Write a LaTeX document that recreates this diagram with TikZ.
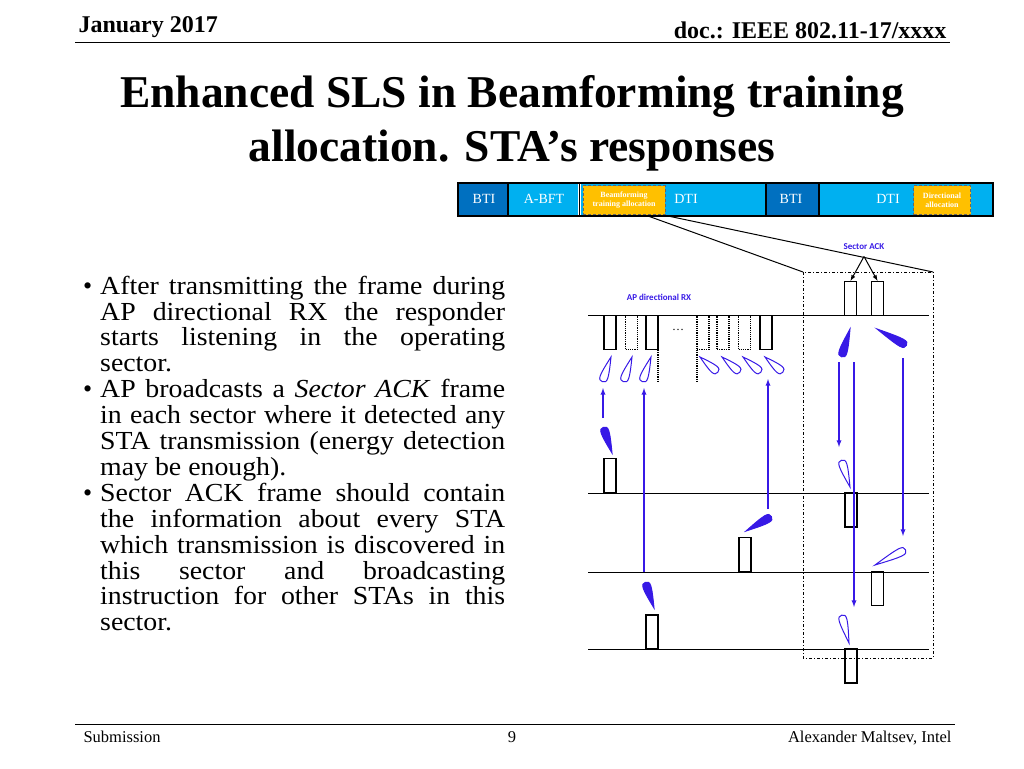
\documentclass[tikz,border=0pt]{standalone}
\usepackage{fontspec}
\setmainfont{Liberation Serif}
\newfontfamily\labelfont{Carlito}
\newfontfamily\bodyfont[FakeStretch=1.07]{Liberation Serif}
\usepackage{enumitem}
\usetikzlibrary{calc,positioning}

\definecolor{btiblue}{HTML}{0070C0}
\definecolor{dtiblue}{HTML}{00B0F0}
\definecolor{alloc}{HTML}{FFC000}
\definecolor{beam}{RGB}{55,25,230}

\tikzset{
  frm/.style    = {draw, line width=1.2pt, minimum width=12pt, minimum height=34pt, inner sep=0pt},
  frmdot/.style = {frm, densely dotted},
  axis/.style   = {line width=1pt},
  ray/.style    = {beam, line width=1.3pt, -latex},
  seg/.style    = {text=white, font=\fontsize{14}{14}\selectfont, inner sep=0pt},
  tag/.style    = {text=white, font=\bfseries\fontsize{8}{9}\selectfont, align=center, inner sep=0pt}
}

% lobe: style, tip, centre of round end
\newcommand\lobe[3]{%
  \draw[beam, line width=1pt, #1] (#2)
    .. controls ($(#3)!5pt!90:(#2)$) and ($($(#3)!-5pt!(#2)$)!5.5pt!90:(#3)$) .. ($(#3)!-5pt!(#2)$)
    .. controls ($($(#3)!-5pt!(#2)$)!5.5pt!-90:(#3)$) and ($(#3)!5pt!-90:(#2)$) .. (#2) -- cycle;}

\begin{document}
\begin{tikzpicture}[x=1pt, y=-1pt]
\useasboundingbox (0,0) rectangle (1024,768);

% header and footer
\node[anchor=base west, font=\bfseries\fontsize{24}{24}\selectfont] (date) at (75,33) {January 2017};
\node[anchor=base east, font=\bfseries\fontsize{24}{24}\selectfont] (doc) at (950,39) {doc.: IEEE 802.11-17/xxxx};
\draw[line width=1pt] (75,43) -- (950,43);
\node[font=\bfseries\fontsize{45.5}{45.5}\selectfont] (t1) at (512,97) {Enhanced SLS in Beamforming training};
\node[font=\bfseries\fontsize{45.5}{45.5}\selectfont] (t2) at (512,151) {allocation. STA’s responses};
\draw[line width=1pt] (75,724) -- (955,724);
\node[anchor=base west, font=\fontsize{16.5}{16.5}\selectfont] (sub) at (80,742) {Submission};
\node[anchor=base, font=\fontsize{16.5}{16.5}\selectfont] (pg) at (512,742) {9};
\node[anchor=base east, font=\fontsize{16.5}{16.5}\selectfont] (auth) at (955,742) {Alexander Maltsev, Intel};

% text
\node[anchor=north west, text width=427pt, inner sep=0pt, align=justify,
      font=\bodyfont\fontsize{26}{25.9}\selectfont] (body) at (78,268) {%
\hyphenpenalty=10000 \exhyphenpenalty=10000
\begin{itemize}[leftmargin=22pt, labelsep=8pt, itemsep=0pt, topsep=0pt, parsep=0pt]
\item After transmitting the frame during AP directional RX the responder starts listening in the operating sector.
\item AP broadcasts a \textit{Sector ACK} frame in each sector where it detected any STA transmission (energy detection may be enough).
\item Sector ACK frame should contain the information about every STA which transmission is discovered in\linebreak this sector and broadcasting instruction for other STAs in this sector.
\end{itemize}};

% superframe bar
\fill[btiblue] (458,183) rectangle (508,216);
\fill[dtiblue] (508,183) rectangle (578,216);
\fill[dtiblue] (581,183) rectangle (766,216);
\fill[btiblue] (766,183) rectangle (819,216);
\fill[dtiblue] (819,183) rectangle (993,216);
\draw[line width=1.5pt] (458,183) rectangle (993,216);
\draw[line width=1.5pt] (508,183) -- (508,216) (579.5,183) -- (579.5,216) (766,183) -- (766,216) (819,183) -- (819,216);
\node[tag, fill=alloc, draw=black!60, densely dashed, minimum width=82pt, minimum height=29pt] (bfa) at (624,200) {Beamforming\\training allocation};
\node[tag, fill=alloc, draw=black!60, densely dashed, minimum width=57pt, minimum height=29pt] (dira) at (942,200) {Directional\\allocation};
\node[seg] (bti1) at (484,199) {BTI};
\node[seg] (abft) at (544,199) {A-BFT};
\node[seg] (dti1) at (686,199) {DTI};
\node[seg] (bti2) at (791,199) {BTI};
\node[seg] (dti2) at (888,199) {DTI};

% zoom box
\draw[line width=1pt, dash dot] (803,272) rectangle (933,658);
\coordinate (zl) at (803,272);
\coordinate (zr) at (933,272);
\draw[line width=1pt] (648,216) -- (zl);
\draw[line width=1pt] (668,216) -- (zr);

% time axes
\foreach \y in {315,493,572,649}
  \draw[axis] (588,\y) -- (929,\y);

\node[beam, font=\labelfont\bfseries\fontsize{9}{9}\selectfont] (aprx) at (659,297) {AP directional RX};
\node[beam, font=\labelfont\bfseries\fontsize{9}{9}\selectfont] (sack) at (864,247) {Sector ACK};

% AP receive sectors
\node[frm] (rx1) at (610,332.5) {};
\node[frmdot] (rx2) at (631.5,332.5) {};
\node[frm] (rx3) at (652,332.5) {};
\node (dots) at (678,330) {\fontsize{12}{12}\selectfont\dots};
\node[frmdot] (rx4) at (703,332.5) {};
\node[frmdot] (rx5) at (723,332.5) {};
\node[frmdot] (rx6) at (744.5,332.5) {};
\node[frm] (rx7) at (766,332.5) {};
\draw[line width=1.2pt, densely dotted] (658,350) -- (658,383) (697,350) -- (697,383);

% sector ACK frames
\node[frm] (ack1) at (850.5,298.5) {};
\node[frm] (ack2) at (877.5,298.5) {};
\draw[-latex, line width=1pt] ($(sack.south)+(0,3)$) -- (ack1.north);
\draw[-latex, line width=1pt] ($(sack.south)+(0,3)$) -- (ack2.north);

% STA frames
\node[frm] (sta1) at (610,475.5) {};
\node[frm] (sta2) at (745,554.5) {};
\node[frm] (sta3) at (652,632) {};
\node[frm] (rsp1) at (851,510) {};
\node[frm] (rsp2) at (877.5,588.5) {};
\node[frm] (rsp3) at (851,666) {};

% AP beams
\lobe{}{611,357}{604,377}
\lobe{}{632,357}{625,377}
\lobe{}{651,357}{644,377}
\foreach \x in {700,722,743,765}{
  \lobe{}{\x,357}{\x+14,369}
}
\lobe{fill=beam}{850,329}{843,352}
\lobe{fill=beam}{877,329}{902,343}
\lobe{}{850,487}{843,465}
\lobe{}{875,565}{901,552}
\lobe{}{849,643}{843,620}

% STA beams
\lobe{fill=beam}{612,453}{605,432}
\lobe{fill=beam}{746,531}{767,519}
\lobe{fill=beam}{654,608}{647,587}

% links
\coordinate (u1) at (603,418);
\coordinate (u1e) at (603,388);
\coordinate (u2) at (644,572);
\coordinate (u2e) at (644,388);
\coordinate (u3) at (768,509);
\coordinate (u3e) at (768,379);
\coordinate (d1) at (839,362);
\coordinate (d1e) at (839,447);
\coordinate (d2) at (854,362);
\coordinate (d2e) at (854,607);
\coordinate (d3) at (903,358);
\coordinate (d3e) at (903,536);
\foreach \a/\b in {u1/u1e,u2/u2e,u3/u3e,d1/d1e,d2/d2e,d3/d3e}
  \draw[ray] (\a) -- (\b);

\end{tikzpicture}
\end{document}
